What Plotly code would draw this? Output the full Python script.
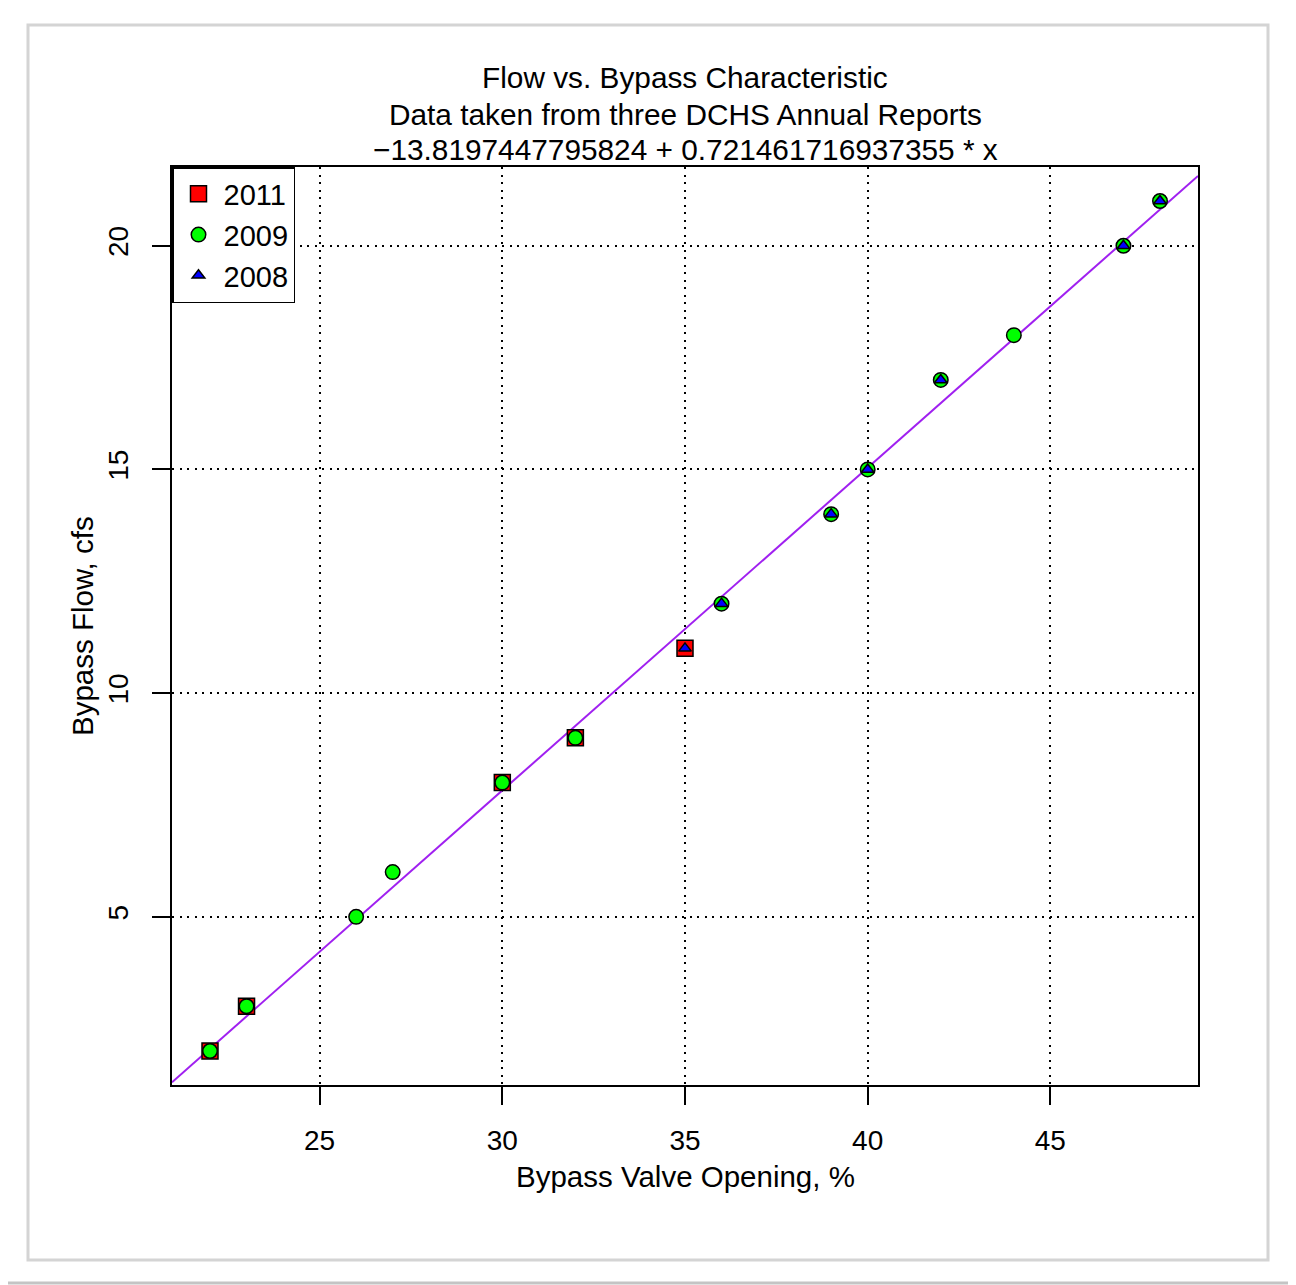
import plotly.graph_objects as go

# ---- data ----
x_2011 = [22, 23, 30, 32, 35]
y_2011 = [2, 3, 8, 9, 11]
x_2009 = [22, 23, 26, 27, 30, 32, 36, 39, 40, 42, 44, 47, 48]
y_2009 = [2, 3, 5, 6, 8, 9, 12, 14, 15, 17, 18, 20, 21]
x_2008 = [35, 36, 39, 40, 42, 47, 48]
y_2008 = [11, 12, 14, 15, 17, 20, 21]
intercept = -13.8197447795824
slope = 0.721461716937355
x_ticks = [25, 30, 35, 40, 45]
y_ticks = [5, 10, 15, 20]
title_lines = ["Flow vs. Bypass Characteristic",
               "Data taken from three DCHS Annual Reports",
               "\u221213.8197447795824 + 0.721461716937355 * x"]

OFF = 8  # page body margin
W, H = 1296 - OFF, 1285 - OFF
# plot area in page pixels
L, R, T, B = 172, 1198, 167, 1085
FONT = "Liberation Sans, Arial, Helvetica, sans-serif"

all_x = x_2011 + x_2009 + x_2008
all_y = y_2011 + y_2009 + y_2008
xr = [min(all_x) - 0.04 * (max(all_x) - min(all_x)), max(all_x) + 0.04 * (max(all_x) - min(all_x))]
yr = [min(all_y) - 0.04 * (max(all_y) - min(all_y)), max(all_y) + 0.04 * (max(all_y) - min(all_y))]

def px2x(px):
    return (px - L) / (R - L)

def py2y(py):
    return (B - py) / (B - T)

fig = go.Figure()
fig.add_trace(go.Scatter(x=xr, y=[intercept + slope * v for v in xr], mode="lines",
                         line=dict(color="#A020F0", width=2), showlegend=False, hoverinfo="skip"))
mline = dict(color="black", width=1.5)
fig.add_trace(go.Scatter(x=x_2011, y=y_2011, mode="markers", name="2011",
                         marker=dict(symbol="square", size=16, color="#FF0000", line=mline)))
fig.add_trace(go.Scatter(x=x_2009, y=y_2009, mode="markers", name="2009",
                         marker=dict(symbol="circle", size=14.5, color="#00FF00", line=mline)))
fig.add_trace(go.Scatter(x=x_2008, y=y_2008, mode="markers", name="2008",
                         marker=dict(symbol="triangle-up", size=11, color="#0000FF", line=mline)))

axis_common = dict(showline=True, linecolor="black", linewidth=1.5, mirror=True,
                   ticks="outside", ticklen=18, tickwidth=1.5, tickcolor="black",
                   showgrid=True, gridcolor="black", gridwidth=1.8, griddash="2px,5.5px",
                   zeroline=False, tickfont=dict(family=FONT, size=28, color="black"))
fig.update_xaxes(range=xr, tickvals=x_ticks, ticklabelstandoff=12, **axis_common)
fig.update_yaxes(range=yr, tickvals=y_ticks, tickangle=-90, ticklabelstandoff=13, **axis_common)

annotations = []
for py, txt in zip([78, 114, 149], title_lines):
    annotations.append(dict(text=txt, x=0.5, y=py2y(py), xref="paper", yref="paper",
                            xanchor="center", yanchor="middle", showarrow=False,
                            font=dict(family=FONT, size=29.8, color="black")))
annotations.append(dict(text="Bypass Valve Opening, %", x=0.5, y=py2y(1176), xref="paper", yref="paper",
                        xanchor="center", yanchor="middle", showarrow=False,
                        font=dict(family=FONT, size=29.5, color="black")))
annotations.append(dict(text="Bypass Flow, cfs", x=px2x(82), y=py2y(626), xref="paper", yref="paper",
                        xanchor="center", yanchor="middle", showarrow=False, textangle=-90,
                        font=dict(family=FONT, size=29.5, color="black")))

shapes = [
    dict(type="rect", xref="paper", yref="paper", x0=px2x(28), x1=px2x(1268), y0=py2y(1260), y1=py2y(25),
         line=dict(color="#d4d4d4", width=3), layer="below"),
    dict(type="rect", xref="paper", yref="paper", x0=px2x(5), x1=px2x(1293), y0=py2y(1283), y1=py2y(2),
         line=dict(color="#c4c4c4", width=3), layer="below"),
]

fig.update_layout(
    width=W, height=H,
    margin=dict(l=L - OFF, r=(W + OFF) - R, t=T - OFF, b=(H + OFF) - B, pad=0),
    paper_bgcolor="white", plot_bgcolor="white",
    annotations=annotations, shapes=shapes,
    legend=dict(x=0, y=1, xanchor="left", yanchor="top", bgcolor="white",
                bordercolor="black", borderwidth=1.5,
                font=dict(family=FONT, size=29, color="black"),
                tracegroupgap=0, itemsizing="trace", itemwidth=40,
                entrywidth=80, entrywidthmode="pixels"),
    showlegend=True,
)

fig.write_html("out.html")
